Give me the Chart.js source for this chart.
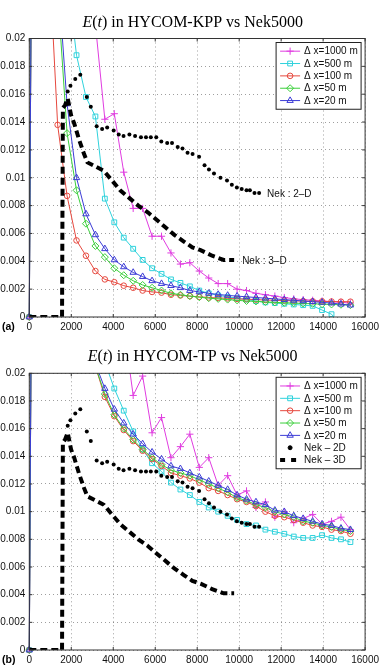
<!DOCTYPE html>
<html>
<head>
<meta charset="utf-8">
<title>E(t) in HYCOM vs Nek5000</title>
<script src="https://cdn.jsdelivr.net/npm/chart.js@4.4.0/dist/chart.umd.min.js"></script>
<style>
  body { margin: 0; background: #fff; }
  canvas { display: block; }
</style>
</head>
<body>
<canvas id="kppChart" width="383" height="333"></canvas>
<canvas id="tpChart" width="383" height="332"></canvas>
<script>
// Energy E(t): HYCOM runs (KPP and TP) against Nek5000 2-D / 3-D

// Output times of the HYCOM runs (s)
const tSteps = [0, 450, 900, 1350, 1800, 2250, 2700, 3150, 3600, 4050, 4500, 4950, 5400, 5850,
    6300, 6750, 7200, 7650, 8100, 8550, 9000, 9450, 9900, 10350, 10800, 11250, 11700, 12150,
    12600, 13050, 13500, 13950, 14400, 14850, 15300];

// HYCOM-KPP (panel a)
const kpp1000 = [0, 0.12, 0.09, 0.07, 0.055, 0.045, 0.035, 0.021, 0.0142, 0.0146, 0.0104, 0.0078,
    0.0078, 0.0058, 0.0058, 0.0046, 0.0038, 0.0039, 0.0033, 0.0028, 0.0024, 0.0024, 0.0020, 0.0019,
    0.0017, 0.0016, 0.0015, 0.0014, 0.0013, 0.00125, 0.0012, 0.00115, 0.0011, 0.00105, 0.0010];
const kpp500 = [0, 0.12, 0.09, 0.06, 0.0246, 0.0188, 0.0158, 0.0144, 0.0085, 0.0068, 0.0057, 0.0049,
    0.0041, 0.0035, 0.0031, 0.0027, 0.00245, 0.0022, 0.0019, 0.0017, 0.00155, 0.00145, 0.00135,
    0.00125, 0.00115, 0.00105, 0.0010, 0.00095, 0.0009, 0.00085, 0.0008, 0.0005, 0.0002, -0.0006, -0.0015];
const kpp100 = [0, 0.12, 0.0272, 0.0138, 0.0087, 0.0055, 0.0044, 0.0033, 0.0027, 0.0025, 0.00225,
    0.0021, 0.0019, 0.0018, 0.00175, 0.0016, 0.00155, 0.0015, 0.00145, 0.0014, 0.00137, 0.00134,
    0.0013, 0.00128, 0.00125, 0.00122, 0.0012, 0.00118, 0.00116, 0.00114, 0.00113, 0.00112,
    0.00111, 0.0011, 0.0011];
const kpp50 = [0, 0.12, 0.06, 0.0234, 0.0132, 0.0091, 0.0067, 0.0051, 0.0043, 0.0035, 0.0030, 0.0026,
    0.0023, 0.0021, 0.0019, 0.0017, 0.0016, 0.0015, 0.00142, 0.00135, 0.0013, 0.00125, 0.0012,
    0.00115, 0.00112, 0.00108, 0.00105, 0.00102, 0.0010, 0.00097, 0.00095, 0.00092, 0.0009,
    0.00088, 0.00085];
const kpp20 = [0, 0.12, 0.06, 0.0248, 0.0153, 0.0100, 0.0074, 0.0059, 0.0049, 0.0041, 0.0036, 0.0032,
    0.0029, 0.0026, 0.0024, 0.00225, 0.0021, 0.0019, 0.0018, 0.0017, 0.00162, 0.00155, 0.0015,
    0.00145, 0.0014, 0.00135, 0.0013, 0.00125, 0.0012, 0.00115, 0.0011, 0.00105, 0.0010, 0.00092, 0.00085];

// HYCOM-TP (panel b)
const tp1000 = [0, 0.12, 0.09, 0.07, 0.055, 0.045, 0.038, 0.032, 0.028, 0.026, 0.0234, 0.0184, 0.0198,
    0.0157, 0.0168, 0.0139, 0.0147, 0.0156, 0.0132, 0.0139, 0.0119, 0.0126, 0.0112, 0.0115, 0.0103,
    0.0107, 0.0096, 0.0100, 0.0092, 0.0095, 0.0098, 0.0091, 0.0093, 0.0096, 0.0087];
const tp500 = [0, 0.12, 0.09, 0.07, 0.055, 0.045, 0.035, 0.027, 0.0208, 0.0189, 0.0173, 0.0158, 0.0145,
    0.0135, 0.0129, 0.0121, 0.0116, 0.0112, 0.0107, 0.0103, 0.0100, 0.0097, 0.0094, 0.0091, 0.0090,
    0.0087, 0.00855, 0.0084, 0.0082, 0.0081, 0.0081, 0.0083, 0.0081, 0.0080, 0.0078];
const tp100 = [0, 0.12, 0.08, 0.06, 0.045, 0.035, 0.028, 0.0205, 0.0183, 0.0169, 0.0159, 0.0151, 0.0144,
    0.0138, 0.0133, 0.0128, 0.0126, 0.0124, 0.0121, 0.0117, 0.0115, 0.0112, 0.0109, 0.0107, 0.0104,
    0.0100, 0.0097, 0.0096, 0.0094, 0.0092, 0.0090, 0.0089, 0.0087, 0.0086, 0.0084];
const tp50 = [0, 0.12, 0.08, 0.06, 0.045, 0.035, 0.028, 0.0205, 0.0185, 0.0170, 0.0160, 0.0152, 0.0145,
    0.0139, 0.0134, 0.0130, 0.0128, 0.0126, 0.0123, 0.0120, 0.0117, 0.0114, 0.0110, 0.0108, 0.0105,
    0.0103, 0.0100, 0.0098, 0.0096, 0.0093, 0.0092, 0.0090, 0.0089, 0.0087, 0.0086];
const tp20 = [0, 0.12, 0.08, 0.06, 0.045, 0.035, 0.028, 0.0207, 0.0189, 0.0174, 0.0164, 0.0156, 0.0149,
    0.0143, 0.0138, 0.0133, 0.0131, 0.0128, 0.0125, 0.0122, 0.0119, 0.0116, 0.0112, 0.0109, 0.0107,
    0.0105, 0.0101, 0.0100, 0.0097, 0.0095, 0.0093, 0.0091, 0.0090, 0.0088, 0.0087];

// Nek5000 reference runs (same in both panels)
const nek2dT = [1830, 1960, 2190, 2430, 2740, 2930, 3210, 3470, 3710, 4020, 4260, 4490, 4770, 5040,
    5320, 5560, 5790, 6050, 6290, 6570, 6800, 7070, 7300, 7540, 7780, 8090, 8350, 8560, 8800, 9110,
    9420, 9650, 9890, 10120, 10350, 10510, 10730, 10950];
const nek2dE = [0.0162, 0.0166, 0.0171, 0.0174, 0.0158, 0.0151, 0.0137, 0.0135, 0.0136, 0.0134, 0.0131,
    0.0130, 0.0131, 0.0130, 0.0129, 0.0129, 0.0129, 0.0129, 0.0126, 0.0125, 0.0125, 0.0122, 0.0121,
    0.0118, 0.0117, 0.0115, 0.0109, 0.0106, 0.0103, 0.0100, 0.0098, 0.0095, 0.0093, 0.0092, 0.0091,
    0.0091, 0.0089, 0.0089];
const nek3dT = [0, 350, 700, 1050, 1400, 1560, 1600, 1700, 1830, 1990, 2140, 2380, 2610, 2770, 3160,
    3550, 3940, 4330, 4800, 5190, 5660, 6050, 6440, 6910, 7380, 7770, 8160, 8710, 9260, 9760];
const nek3dE = [0, 0, 0, 0, 0, 0, 0.0150, 0.0152, 0.0157, 0.0145, 0.0139, 0.0127, 0.0117, 0.0111,
    0.0108, 0.0105, 0.0098, 0.0091, 0.0085, 0.0080, 0.0075, 0.0070, 0.0065, 0.0059, 0.0054, 0.0050,
    0.0048, 0.0044, 0.0041, 0.0041];

// Axis ticks
const xTicks = [0, 2000, 4000, 6000, 8000, 10000, 12000, 14000, 16000];
const yTicks = [0, 0.002, 0.004, 0.006, 0.008, 0.01, 0.012, 0.014, 0.016, 0.018, 0.02];

// Series labels / styles
const modelLabels = ['\u0394 x=1000 m', '\u0394 x=500 m', '\u0394 x=100 m', '\u0394 x=50 m', '\u0394 x=20 m'];
const modelColors = ['#e03ce0', '#2fd2dc', '#e6483e', '#3bcf3b', '#3c3cd6'];
const modelMarkers = ['cross', 'rect', 'circle', 'rectRot', 'triangle'];
const markerSizes = [3.6, 3.4, 2.8, 3.5, 3.7];

const tickFont = { family: '"Liberation Sans", Arial, sans-serif', size: 10 };
const fontCss = '10px "Liberation Sans", Arial, sans-serif';
const gridColor = 'rgba(0, 0, 0, 0.38)';

Chart.defaults.font.family = tickFont.family;
Chart.defaults.font.size = tickFont.size;
Chart.defaults.color = '#111';

function toPoints(xs, ys) {
    return ys.map((v, j) => ({ x: xs[j], y: v }));
}

function modelSets(series) {
    return series.map((vals, i) => ({
        label: modelLabels[i],
        data: toPoints(tSteps, vals),
        borderColor: modelColors[i],
        borderWidth: 1,
        pointStyle: modelMarkers[i],
        pointRadius: markerSizes[i],
        pointBorderWidth: 1,
        pointBorderColor: modelColors[i],
        pointBackgroundColor: 'rgba(0,0,0,0)',
        tension: 0,
        order: 7 - i,
        clip: { left: 4, top: 0, right: 4, bottom: vals.some(v => v < 0) ? 0 : 4 }
    }));
}

function nekSets(inLegend) {
    return [
        {
            label: inLegend ? 'Nek \u2013 2D' : null,
            endLabel: inLegend ? null : 'Nek : 2\u2013D',
            data: toPoints(nek2dT, nek2dE),
            showLine: false,
            borderColor: '#000',
            pointStyle: 'circle',
            pointRadius: 2,
            pointBorderWidth: 0,
            pointBackgroundColor: '#000',
            order: 2
        },
        {
            label: inLegend ? 'Nek \u2013 3D' : null,
            endLabel: inLegend ? null : 'Nek : 3\u2013D',
            data: toPoints(nek3dT, nek3dE),
            borderColor: '#000',
            borderWidth: 4,
            borderDash: [7, 4],
            pointRadius: 0,
            tension: 0,
            order: 1
        }
    ];
}

// Title with math-style E(t)
const mathTitle = {
    id: 'mathTitle',
    afterDraw(chart, args, opts) {
        const ctx = chart.ctx;
        const area = chart.chartArea;
        const parts = [['E', true], ['(', false], ['t', true], [')', false],
            [' in ' + opts.model + ' vs Nek5000', false]];
        const fontOf = it => (it ? 'italic ' : '') + '16px "Liberation Serif", "DejaVu Serif", serif';
        ctx.save();
        let w = 0;
        parts.forEach(p => { ctx.font = fontOf(p[1]); w += ctx.measureText(p[0]).width; });
        let x = (area.left + area.right) / 2 - 4.5 - w / 2;
        ctx.fillStyle = '#000';
        ctx.textBaseline = 'alphabetic';
        parts.forEach(p => {
            ctx.font = fontOf(p[1]);
            ctx.fillText(p[0], x, opts.baseline);
            x += ctx.measureText(p[0]).width;
        });
        // panel tag, (a) / (b)
        ctx.font = 'bold 10.5px "Liberation Sans", Arial, sans-serif';
        ctx.textBaseline = 'middle';
        ctx.fillText(opts.tag, 2, area.bottom + 10);
        ctx.restore();
    }
};

// MATLAB-like box with inward ticks
const axesBox = {
    id: 'axesBox',
    afterDatasetsDraw(chart) {
        const ctx = chart.ctx;
        const a = chart.chartArea;
        const xs = chart.scales.x, ys = chart.scales.y;
        ctx.save();
        ctx.strokeStyle = '#333';
        ctx.lineWidth = 1;
        ctx.strokeRect(a.left, a.top, a.right - a.left, a.bottom - a.top);
        ctx.beginPath();
        xTicks.forEach(v => {
            const px = xs.getPixelForValue(v);
            ctx.moveTo(px, a.bottom); ctx.lineTo(px, a.bottom - 3);
            ctx.moveTo(px, a.top); ctx.lineTo(px, a.top + 3);
        });
        yTicks.forEach(v => {
            const py = ys.getPixelForValue(v);
            ctx.moveTo(a.left, py); ctx.lineTo(a.left + 3, py);
            ctx.moveTo(a.right, py); ctx.lineTo(a.right - 3, py);
        });
        ctx.stroke();
        ctx.restore();
    }
};

// Text labels at the end of the Nek curves (panel a)
const endLabels = {
    id: 'endLabels',
    afterDatasetsDraw(chart) {
        const ctx = chart.ctx;
        chart.data.datasets.forEach((d, i) => {
            if (!d.endLabel) return;
            const pts = chart.getDatasetMeta(i).data;
            const last = pts[pts.length - 1];
            ctx.save();
            ctx.font = fontCss;
            ctx.fillStyle = '#111';
            ctx.textBaseline = 'middle';
            ctx.fillText(d.endLabel, last.x + 8, last.y + 1);
            ctx.restore();
        });
    }
};

function drawMarker(ctx, style, r, x, y) {
    if (Chart.helpers && Chart.helpers.drawPoint) {
        Chart.helpers.drawPoint(ctx, { pointStyle: style, rotation: 0, radius: r, borderWidth: 1 }, x, y);
        return;
    }
    ctx.beginPath();
    ctx.arc(x, y, r, 0, Math.PI * 2);
    ctx.fill();
    ctx.stroke();
}

// Boxed legend in the upper right corner
const boxLegend = {
    id: 'boxLegend',
    afterDraw(chart) {
        const ctx = chart.ctx;
        const a = chart.chartArea;
        const sets = chart.data.datasets.filter(d => d.label);
        const w = 85, rowH = 12.35, padY = 2.5;
        const h = sets.length * rowH + padY * 2;
        const x0 = a.right - 4 - w, y0 = a.top + 4;
        ctx.save();
        ctx.fillStyle = '#fff';
        ctx.fillRect(x0, y0, w, h);
        ctx.strokeStyle = '#222';
        ctx.lineWidth = 1;
        ctx.strokeRect(x0, y0, w, h);
        sets.forEach((d, i) => {
            const cy = y0 + padY + rowH * (i + 0.5);
            if (d.showLine !== false) {
                ctx.save();
                ctx.strokeStyle = d.borderColor;
                ctx.lineWidth = d.borderWidth;
                ctx.setLineDash(d.borderDash ? [5, 6] : []);
                ctx.beginPath();
                ctx.moveTo(x0 + 4, cy);
                ctx.lineTo(x0 + 24, cy);
                ctx.stroke();
                ctx.restore();
            }
            if (d.pointRadius > 0) {
                ctx.save();
                ctx.strokeStyle = d.pointBorderColor || d.borderColor;
                ctx.fillStyle = d.pointBackgroundColor;
                ctx.lineWidth = d.pointBorderWidth;
                drawMarker(ctx, d.pointStyle, d.pointRadius, x0 + 14, cy);
                ctx.restore();
            }
            ctx.fillStyle = '#111';
            ctx.font = fontCss;
            ctx.textBaseline = 'middle';
            ctx.fillText(d.label, x0 + 28, cy + 0.5);
        });
        ctx.restore();
    }
};

function makeScales(xAxisH) {
    return {
        x: {
            type: 'linear',
            min: 0,
            max: 16000,
            afterBuildTicks: s => { s.ticks = xTicks.map(v => ({ value: v })); },
            afterFit: s => { s.height = xAxisH; },
            ticks: { autoSkip: false, maxRotation: 0, padding: 4, font: tickFont, color: '#111',
                callback: v => String(v) },
            grid: { drawTicks: false, color: gridColor, lineWidth: 1 },
            border: { display: false, dash: [1, 3] }
        },
        y: {
            min: 0,
            max: 0.02,
            afterBuildTicks: s => { s.ticks = yTicks.map(v => ({ value: v })); },
            afterFit: s => { s.width = 29.3; },
            ticks: { padding: 4, font: tickFont, color: '#111',
                callback: v => String(+Number(v).toFixed(3)) },
            grid: { drawTicks: false, color: gridColor, lineWidth: 1 },
            border: { display: false, dash: [1, 3] }
        }
    };
}

function makeChart(id, model, tag, series, legendNek, padTop, xAxisH, baseline) {
    return new Chart(document.getElementById(id), {
        type: 'line',
        data: { datasets: modelSets(series).concat(nekSets(legendNek)) },
        options: {
            responsive: false,
            animation: false,
            devicePixelRatio: 1,
            layout: { padding: { top: padTop, right: 13, left: 0, bottom: 0 } },
            scales: makeScales(xAxisH),
            plugins: {
                legend: { display: false },
                tooltip: { enabled: false },
                mathTitle: { model: model, tag: tag, baseline: baseline }
            }
        },
        plugins: [axesBox, endLabels, boxLegend, mathTitle]
    });
}

makeChart('kppChart', 'HYCOM-KPP', '(a)',
    [kpp1000, kpp500, kpp100, kpp50, kpp20], false, 38.5, 16, 27);
makeChart('tpChart', 'HYCOM-TP', '(b)',
    [tp1000, tp500, tp100, tp50, tp20], true, 40.3, 15, 28);
</script>
</body>
</html>
